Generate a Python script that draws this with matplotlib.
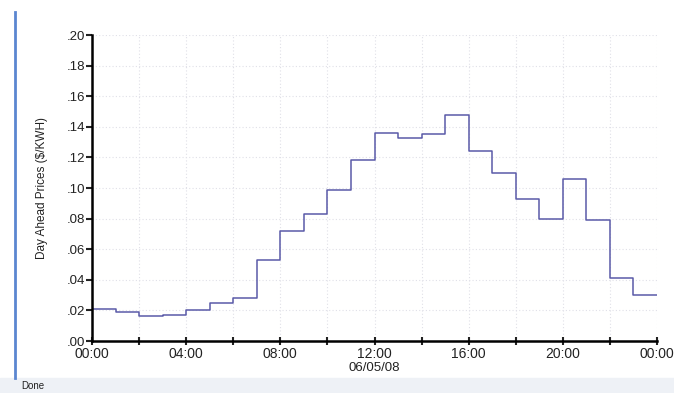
import matplotlib
matplotlib.use('Agg')
import matplotlib.pyplot as plt
from matplotlib.ticker import FuncFormatter, MultipleLocator
from matplotlib.patches import Rectangle
from matplotlib.lines import Line2D

### Data - hourly day ahead prices, 06/05/08
hours = list(range(25))
prices = [0.021, 0.0187, 0.0165, 0.017, 0.020, 0.025, 0.028, 0.053,
          0.072, 0.083, 0.099, 0.118, 0.136, 0.133, 0.135, 0.148,
          0.124, 0.110, 0.093, 0.080, 0.106, 0.079, 0.041, 0.030]
tick_hours = [0, 4, 8, 12, 16, 20, 24]
tick_labels = ['00:00', '04:00', '08:00', '12:00', '16:00', '20:00', '00:00']
date_label = '06/05/08'

plt.rcParams['font.family'] = ['Liberation Sans', 'DejaVu Sans']

fig = plt.figure(figsize=(6.74, 3.93), dpi=100)
ax = fig.add_axes([92/674, 1 - 341/393, 565/674, 306/393])

# step line, extend last hour to midnight
ax.step(hours, prices + [prices[-1]], where='post', color='#5a5aa8', lw=1.1)

ax.set_xlim(0, 24)
ax.set_ylim(0, 0.20)
ax.set_xticks(range(0, 25, 2))
ax.set_xticklabels([tick_labels[tick_hours.index(h)] if h in tick_hours else '' for h in range(0, 25, 2)])
ax.yaxis.set_major_locator(MultipleLocator(0.02))
ax.yaxis.set_major_formatter(FuncFormatter(lambda v, p: ('%.2f' % v)[1:]))

ax.grid(True, color='#e0e0e8', linestyle=(0, (1, 2)), lw=0.8)
for s in ['top', 'right']:
    ax.spines[s].set_visible(False)
for s in ['left', 'bottom']:
    ax.spines[s].set_linewidth(1.8)
ax.tick_params(axis='both', width=1.5, length=4, labelsize=10, colors='#222222', pad=1)
ax.tick_params(axis='x', direction='inout', length=6, pad=1)
ax.tick_params(axis='y', labelsize=9.5)

# nudge the .00 label up a bit so it doesn't sit on 00:00
ax.get_yticklabels()[0].set_verticalalignment('bottom')

ax.set_xlabel(date_label, fontsize=9.5, labelpad=1, color='#222222')
ax.set_ylabel('Day Ahead Prices ($/KWH)', fontsize=8.5, labelpad=13, color='#222222')

# browser frame bits: blue left edge and status bar
fig.add_artist(Line2D([15/674, 15/674], [15/393, 1 - 12/393], color='#5b86d0', lw=2))
fig.add_artist(Rectangle((0, 0), 1, 15/393, color='#eef1f6', transform=fig.transFigure))
fig.text(21/674, 7/393, 'Done', fontsize=7, va='center', color='#222222')

fig.savefig('out.png', dpi=100)
